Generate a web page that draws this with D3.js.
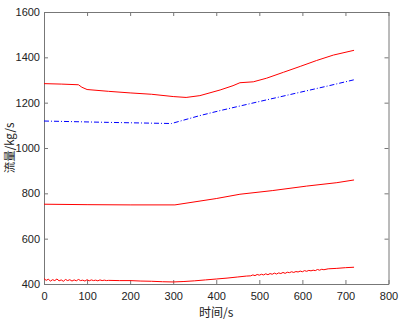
<!DOCTYPE html>
<html>
<head>
<meta charset="utf-8">
<script src="https://cdn.jsdelivr.net/npm/d3@7"></script>
<style>
  body { margin: 0; background: #fff; }
  .axis text { font-family: "Liberation Sans", Arial, sans-serif; font-size: 11px; fill: #222; }
  .axis path, .axis line { stroke: #777; }
</style>
</head>
<body>
<div id="main"></div>
<script>
!(function () {
  'use strict';

  // data
  const xTicks = [0, 100, 200, 300, 400, 500, 600, 700, 800];
  const yTicks = [400, 600, 800, 1000, 1200, 1400, 1600];

  const timeA = [0, 40, 80, 88, 100, 150, 200, 250, 300, 330, 362, 409, 439, 455, 486, 517, 556, 595, 633, 672, 720];
  const flowA = [1284, 1282, 1279, 1268, 1258, 1250, 1243, 1237, 1227, 1223, 1231, 1256, 1275, 1288, 1292, 1308, 1334, 1360, 1386, 1410, 1431];

  const timeB = [0, 150, 296, 362, 409, 500, 595, 660, 720];
  const flowB = [1119, 1113, 1108, 1143, 1165, 1205, 1246, 1274, 1301];

  const timeC = [0, 100, 200, 304, 400, 455, 530, 610, 680, 720];
  const flowC = [752, 750, 749, 749, 777, 796, 812, 832, 847, 859];

  const timeD = [0, 5, 10, 15, 20, 25, 30, 35, 40, 45, 50, 55, 60, 65, 70, 75, 80, 85, 90, 95, 100,
    105, 110, 115, 120, 125, 130, 135, 140, 145, 150, 175, 200, 225, 250, 275, 300, 325, 350, 375,
    400, 425, 450, 470, 480, 485, 490, 495, 500, 505, 510, 515, 520, 525, 530, 535, 540, 545, 550,
    555, 560, 565, 570, 575, 580, 585, 590, 595, 600, 605, 610, 615, 620, 625, 630, 635, 640, 645,
    650, 660, 680, 700, 720];
  const flowD = [424, 416, 421, 413, 419, 415, 422, 414, 418, 412, 420, 415, 419, 413, 418, 414, 420, 415, 417, 413, 419,
    414, 418, 415, 417, 414, 418, 415, 417, 415, 416, 415, 415, 413, 412, 410, 409, 411, 414, 418,
    422, 426, 431, 435, 436, 440, 437, 442, 439, 443, 440, 445, 441, 446, 443, 448, 444, 449, 446,
    451, 447, 452, 450, 454, 451, 455, 453, 457, 454, 459, 456, 460, 458, 461, 459, 464, 461, 465,
    463, 467, 469, 472, 474];

  // declaration
  let svg, xScale, yScale;

  const canvas = {
    context: '#main',
    width: 399,
    height: 326,
    padding: { top: 12, right: 10.5, bottom: 42, left: 44 }
  };

  function setCanvas() {
    svg = d3.select(canvas.context)
      .append('svg')
      .attr('width', canvas.width)
      .attr('height', canvas.height);
  }

  function setScales() {
    xScale = d3.scaleLinear()
      .domain([0, 800])
      .range([canvas.padding.left, canvas.width - canvas.padding.right]);
    yScale = d3.scaleLinear()
      .domain([400, 1600])
      .range([canvas.height - canvas.padding.bottom, canvas.padding.top]);
  }

  function setAxes() {
    const x0 = xScale.range()[0], x1 = xScale.range()[1];
    const y0 = yScale.range()[0], y1 = yScale.range()[1];
    const fmt = d3.format('d');

    svg.append('g')
      .attr('class', 'axis')
      .attr('transform', 'translate(0,' + y0 + ')')
      .call(d3.axisBottom(xScale).tickValues(xTicks).tickFormat(fmt).tickSizeInner(-4).tickSizeOuter(0).tickPadding(8));

    svg.append('g')
      .attr('class', 'axis')
      .attr('transform', 'translate(0,' + y1 + ')')
      .call(d3.axisTop(xScale).tickValues(xTicks).tickSizeInner(-4).tickSizeOuter(0).tickFormat(''));

    svg.append('g')
      .attr('class', 'axis')
      .attr('transform', 'translate(' + x0 + ',0)')
      .call(d3.axisLeft(yScale).tickValues(yTicks).tickFormat(fmt).tickSizeInner(-4).tickSizeOuter(0).tickPadding(4));

    svg.append('g')
      .attr('class', 'axis')
      .attr('transform', 'translate(' + x1 + ',0)')
      .call(d3.axisRight(yScale).tickValues(yTicks).tickSizeInner(-4).tickSizeOuter(0).tickFormat(''));

    // axis labels
    svg.append('text')
      .attr('x', (x0 + x1) / 2)
      .attr('y', 317)
      .attr('text-anchor', 'middle')
      .style('font-family', '"Noto Sans CJK SC", "Liberation Sans", sans-serif')
      .style('font-size', '12px')
      .style('fill', '#222')
      .text('时间/s');

    svg.append('text')
      .attr('transform', 'translate(14,' + ((y0 + y1) / 2) + ') rotate(-90)')
      .attr('text-anchor', 'middle')
      .style('font-family', '"Noto Sans CJK SC", "Liberation Sans", sans-serif')
      .style('font-size', '11.5px')
      .style('fill', '#222')
      .text('流量/kg/s');
  }

  function drawLine(times, values, color, dash) {
    const line = d3.line()
      .x(d => xScale(d[0]))
      .y(d => yScale(d[1]));
    svg.append('path')
      .datum(times.map((t, i) => [t, values[i]]))
      .attr('d', line)
      .attr('fill', 'none')
      .attr('stroke', color)
      .attr('stroke-width', 1)
      .attr('stroke-dasharray', dash || null);
  }

  // control
  setCanvas();
  setScales();
  setAxes();
  drawLine(timeA, flowA, '#ff0000');
  drawLine(timeB, flowB, '#0000ff', '5,2,1,2');
  drawLine(timeC, flowC, '#ff0000');
  drawLine(timeD, flowD, '#ff0000');
}());
</script>
</body>
</html>
